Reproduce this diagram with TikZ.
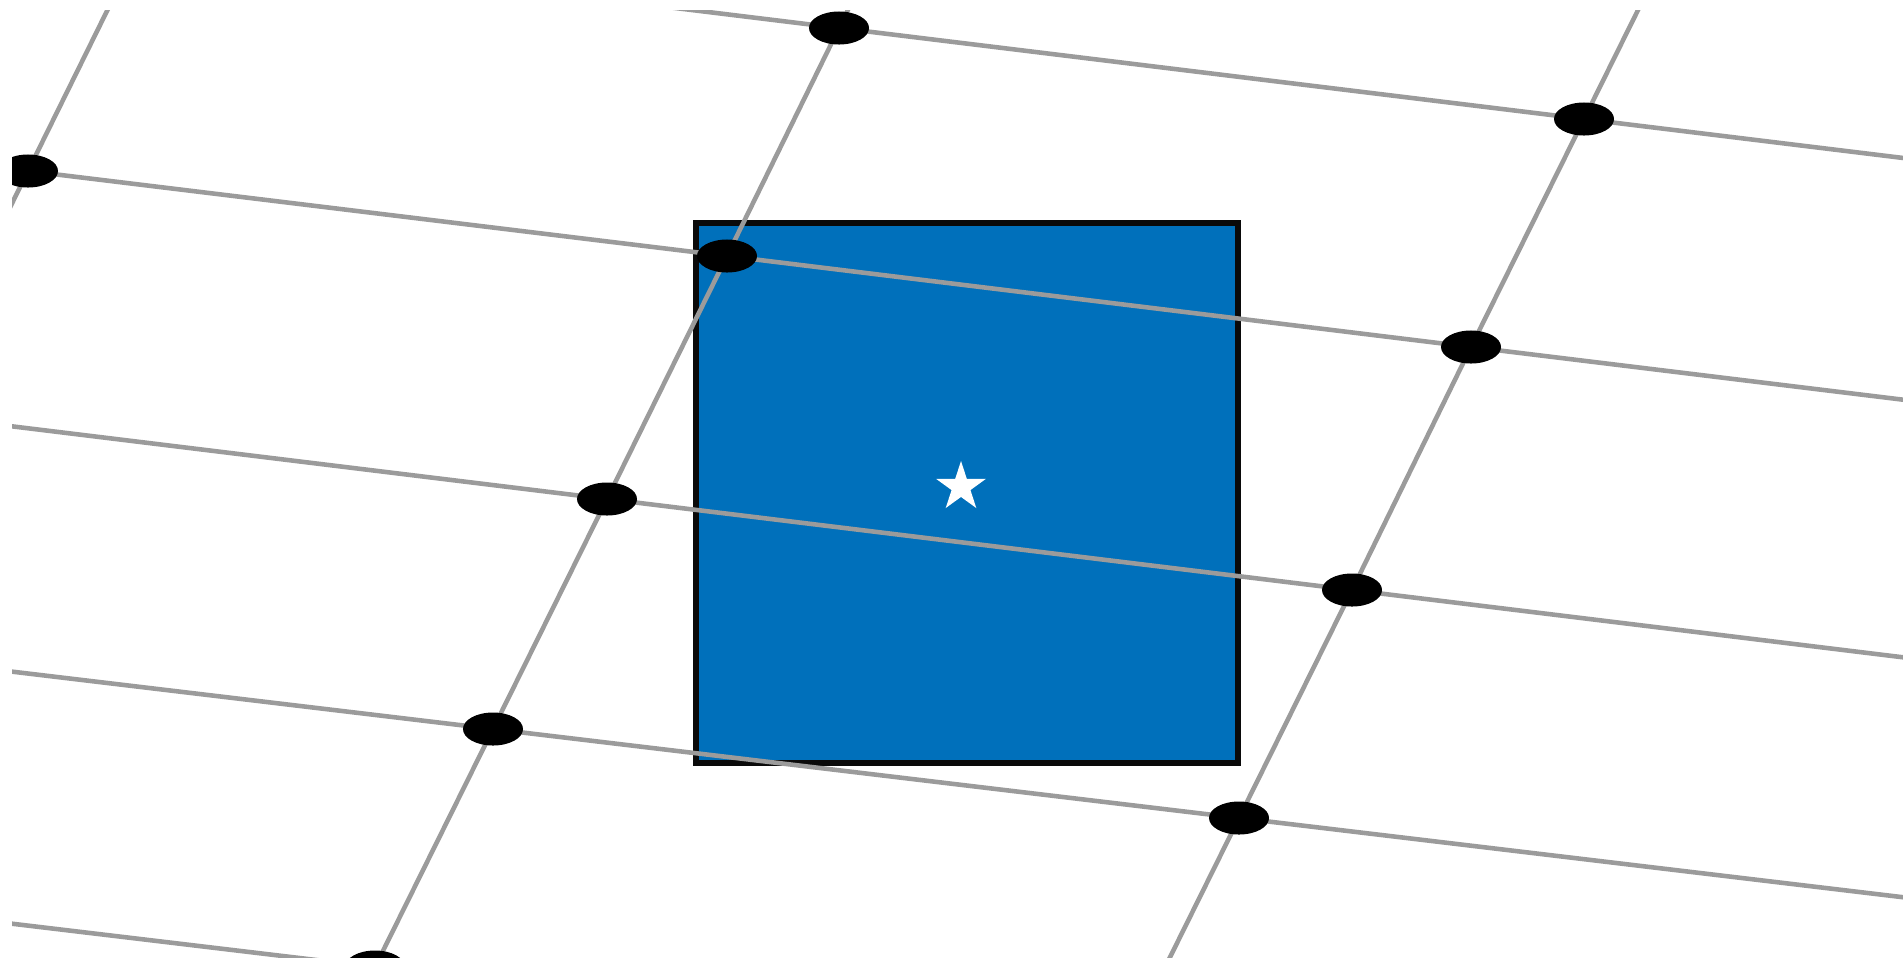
\documentclass[tikz,border=0pt]{standalone}
\usetikzlibrary{calc, shapes.geometric}

\begin{document}
\begin{tikzpicture}[x=0.01cm, y=-0.01cm]
    % Define colours
    \definecolor{gridColour}{HTML}{9B9B9B}
    \definecolor{boxColour}{HTML}{0070BB}
    \definecolor{borderColour}{HTML}{0A0A0A}

    % Define styles
    \tikzset{
        gridline/.style={draw=gridColour, line width=1.3pt},
        dot/.style={ellipse, fill=black, inner sep=0pt, minimum width=0.6cm, minimum height=0.33cm}
    }

    % Fix the page and clip to the view
    \useasboundingbox (0,0) rectangle (1903,957);
    \clip (12,10) rectangle (1903,957);

    % Define coordinates for the grid points
    \coordinate (A0) at (839,28);
    \coordinate (B0) at (1584,119);
    \coordinate (L1) at (28,171);
    \coordinate (A1) at (727,256);
    \coordinate (B1) at (1471,347);
    \coordinate (A2) at (607,499);
    \coordinate (B2) at (1352,590);
    \coordinate (A3) at (493,729);
    \coordinate (B3) at (1239,818);
    \coordinate (A4) at (375,967);

    % Draw the box and fill with blue
    \filldraw[fill=boxColour, draw=borderColour, line width=1.85pt] (696,223) rectangle (1238,763);

    % Draw the rows
    \draw[gridline] ($(A0)!-1.5!(B0)$) -- (A0) -- (B0) -- ($(A0)!2!(B0)$);
    \draw[gridline] ($(L1)!-0.2!(B1)$) -- (L1) -- (A1) -- (B1) -- ($(L1)!1.5!(B1)$);
    \draw[gridline] ($(A2)!-1!(B2)$) -- (A2) -- (B2) -- ($(A2)!2!(B2)$);
    \draw[gridline] ($(A3)!-1!(B3)$) -- (A3) -- (B3) -- ($(A3)!2!(B3)$);
    \draw[gridline] ($(A4)+(-746,-89)$) -- (A4) -- ($(A4)+(746,89)$);

    % Draw the columns
    \draw[gridline] ($(L1)+(116,-235)$) -- (L1) -- ($(L1)+(-116,235)$);
    \draw[gridline] ($(A0)!-1!(A1)$) -- (A0) -- (A1) -- (A2) -- (A3) -- (A4) -- ($(A3)!2!(A4)$);
    \draw[gridline] ($(B0)!-1!(B1)$) -- (B0) -- (B1) -- (B2) -- (B3) -- ($(B2)!2!(B3)$);

    % Draw the dots
    \foreach \p in {A0,B0,L1,A1,B1,A2,B2,A3,B3,A4}
        \node[dot] (dot\p) at (\p) {};

    % Draw the star
    \node[star, star points=5, star point ratio=2.618, minimum size=0.52cm, inner sep=0pt, fill=white] (centre) at (961,487) {};

\end{tikzpicture}
\end{document}
